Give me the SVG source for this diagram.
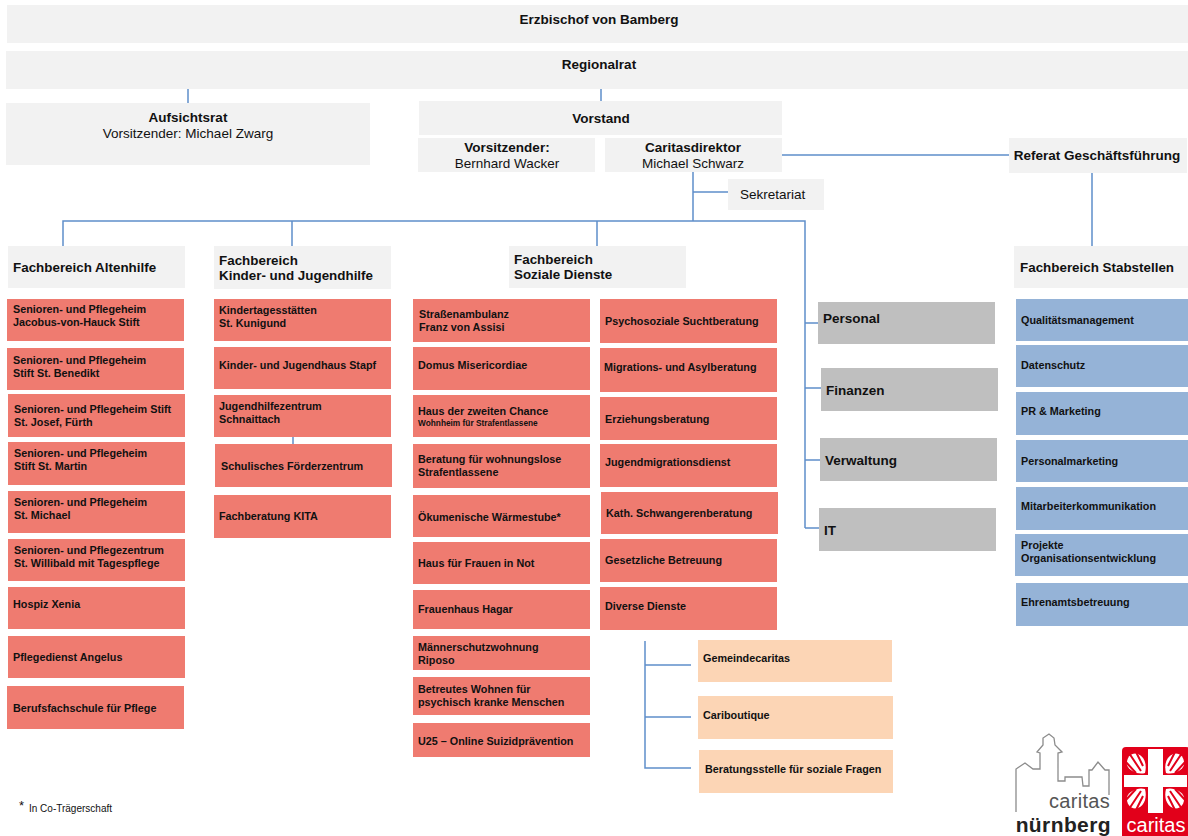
<svg xmlns="http://www.w3.org/2000/svg" width="1188" height="836" viewBox="0 0 1188 836">
<style>
text{font-family:"Liberation Sans",Arial,sans-serif;fill:#111;white-space:pre}
.g{fill:#f2f2f2}.r{fill:#ef7b70}.y{fill:#bfbfbf}.b{fill:#95b3d7}.p{fill:#fcd5b5}
.h{font-size:13.5px;font-weight:bold}.n{font-size:13.5px}.f{font-size:13.4px;font-weight:bold}
.t{font-size:10.8px;font-weight:bold}.s{font-size:8.3px;font-weight:bold}
.m{text-anchor:middle}.q{font-size:13.5px;font-weight:bold}
#connectors path{fill:none;stroke:#5f8fca;stroke-width:1.5}
</style>
<defs>
<g id="flame"><path d="M1166 773C1164 765 1166 757 1173 754C1180 752 1185 758 1184 765C1182 771 1173 775 1166 773Z" fill="#fff"/><path d="M1168 766L1175 752M1170 771L1182 753M1175 773L1186 761" stroke="#e2001a" stroke-width="2" fill="none"/></g>
</defs>
<g id="connectors">
<path d="M188 89V103M601 89V101M693 172V221M693 192H728M63 246V221H805V528M292 221V246M597 221V246M805 323H818M805 388H821M805 460H820M805 528H819M782 155H1009M1092 173V246M293 437V444M645 641V768H691M645 665H691M645 717H691"/>
</g>
<g id="n-erzbischof"><rect class="g" x="7" y="5" width="1181" height="38"/><text class="h m" x="599" y="24">Erzbischof von Bamberg</text></g>
<g id="n-regionalrat"><rect class="g" x="6" y="51" width="1182" height="38"/><text class="h m" x="599" y="69">Regionalrat</text></g>
<g id="n-aufsichtsrat"><rect class="g" x="6" y="103" width="364" height="62"/><text class="h m" x="188" y="122">Aufsichtsrat</text><text class="n m" x="188" y="138">Vorsitzender: Michael Zwarg</text></g>
<g id="n-vorstand"><rect class="g" x="419" y="101" width="363" height="34"/><text class="h m" x="601" y="123">Vorstand</text></g>
<g id="n-vorsitzender"><rect class="g" x="418" y="138" width="177" height="34"/><text class="h m" x="507" y="152">Vorsitzender:</text><text class="n m" x="507" y="168">Bernhard Wacker</text></g>
<g id="n-caritasdirektor"><rect class="g" x="605" y="138" width="177" height="34"/><text class="h m" x="693" y="152">Caritasdirektor</text><text class="n m" x="693" y="168">Michael Schwarz</text></g>
<g id="n-referat"><rect class="g" x="1009" y="138" width="178" height="35"/><text class="h m" x="1097" y="160">Referat Geschäftsführung</text></g>
<g id="n-sekretariat"><rect class="g" x="728" y="179" width="96" height="31"/><text class="n" x="740" y="199">Sekretariat</text></g>

<g id="n-fb-alten"><rect class="g" x="8" y="246" width="177" height="42"/><text class="f" x="13" y="272">Fachbereich Altenhilfe</text></g>
<g id="n-fb-kinder"><rect class="g" x="214" y="246" width="177" height="43"/><text class="f" x="219" y="265">Fachbereich</text><text class="f" x="219" y="280">Kinder- und Jugendhilfe</text></g>
<g id="n-fb-soziale"><rect class="g" x="509" y="246" width="177" height="42"/><text class="f" x="514" y="264">Fachbereich</text><text class="f" x="514" y="279">Soziale Dienste</text></g>
<g id="n-fb-stab"><rect class="g" x="1014" y="246" width="174" height="42"/><text class="f" x="1020" y="272">Fachbereich Stabstellen</text></g>

<g id="a1"><rect class="r" x="7" y="299" width="177" height="42"/><text class="t" x="13" y="313">Senioren- und Pflegeheim</text><text class="t" x="13" y="326">Jacobus-von-Hauck Stift</text></g>
<g id="a2"><rect class="r" x="7" y="348" width="177" height="42"/><text class="t" x="13" y="364">Senioren- und Pflegeheim</text><text class="t" x="13" y="377">Stift St. Benedikt</text></g>
<g id="a3"><rect class="r" x="8" y="394" width="177" height="43"/><text class="t" x="14" y="413">Senioren- und Pflegeheim Stift</text><text class="t" x="14" y="426">St. Josef, Fürth</text></g>
<g id="a4"><rect class="r" x="8" y="442" width="177" height="43"/><text class="t" x="14" y="457">Senioren- und Pflegeheim</text><text class="t" x="14" y="470">Stift St. Martin</text></g>
<g id="a5"><rect class="r" x="8" y="491" width="177" height="42"/><text class="t" x="14" y="506">Senioren- und Pflegeheim</text><text class="t" x="14" y="519">St. Michael</text></g>
<g id="a6"><rect class="r" x="8" y="539" width="177" height="42"/><text class="t" x="14" y="554">Senioren- und Pflegezentrum</text><text class="t" x="14" y="567">St. Willibald mit Tagespflege</text></g>
<g id="a7"><rect class="r" x="8" y="587" width="177" height="42"/><text class="t" x="13" y="608">Hospiz Xenia</text></g>
<g id="a8"><rect class="r" x="8" y="636" width="177" height="42"/><text class="t" x="13" y="661">Pflegedienst Angelus</text></g>
<g id="a9"><rect class="r" x="7" y="686" width="177" height="43"/><text class="t" x="13" y="712">Berufsfachschule für Pflege</text></g>

<g id="k1"><rect class="r" x="214" y="299" width="177" height="42"/><text class="t" x="219" y="314">Kindertagesstätten</text><text class="t" x="219" y="327">St. Kunigund</text></g>
<g id="k2"><rect class="r" x="214" y="347" width="177" height="42"/><text class="t" x="219" y="369">Kinder- und Jugendhaus Stapf</text></g>
<g id="k3"><rect class="r" x="214" y="395" width="177" height="42"/><text class="t" x="219" y="410">Jugendhilfezentrum</text><text class="t" x="219" y="423">Schnaittach</text></g>
<g id="k4"><rect class="r" x="215" y="444" width="177" height="43"/><text class="t" x="221" y="470">Schulisches Förderzentrum</text></g>
<g id="k5"><rect class="r" x="214" y="495" width="177" height="43"/><text class="t" x="219" y="520">Fachberatung KITA</text></g>

<g id="s1"><rect class="r" x="413" y="299" width="177" height="43"/><text class="t" x="419" y="318">Straßenambulanz</text><text class="t" x="419" y="331">Franz von Assisi</text></g>
<g id="s2"><rect class="r" x="413" y="347" width="177" height="43"/><text class="t" x="418" y="369">Domus Misericordiae</text></g>
<g id="s3"><rect class="r" x="413" y="395" width="177" height="42"/><text class="t" x="418" y="415">Haus der zweiten Chance</text><text class="s" x="418" y="426">Wohnheim für Strafentlassene</text></g>
<g id="s4"><rect class="r" x="413" y="444" width="177" height="44"/><text class="t" x="418" y="463">Beratung für wohnungslose</text><text class="t" x="418" y="476">Strafentlassene</text></g>
<g id="s5"><rect class="r" x="413" y="495" width="177" height="42"/><text class="t" x="418" y="521">Ökumenische Wärmestube*</text></g>
<g id="s6"><rect class="r" x="413" y="542" width="177" height="42"/><text class="t" x="418" y="567">Haus für Frauen in Not</text></g>
<g id="s7"><rect class="r" x="413" y="590" width="177" height="39"/><text class="t" x="418" y="613">Frauenhaus Hagar</text></g>
<g id="s8"><rect class="r" x="413" y="636" width="177" height="34"/><text class="t" x="418" y="651">Männerschutzwohnung</text><text class="t" x="418" y="664">Riposo</text></g>
<g id="s9"><rect class="r" x="413" y="677" width="177" height="38"/><text class="t" x="418" y="693">Betreutes Wohnen für</text><text class="t" x="418" y="706">psychisch kranke Menschen</text></g>
<g id="s10"><rect class="r" x="413" y="723" width="177" height="34"/><text class="t" x="418" y="745">U25 – Online Suizidprävention</text></g>

<g id="d1"><rect class="r" x="600" y="299" width="177" height="44"/><text class="t" x="605" y="325">Psychosoziale Suchtberatung</text></g>
<g id="d2"><rect class="r" x="600" y="348" width="177" height="44"/><text class="t" x="604" y="371">Migrations- und Asylberatung</text></g>
<g id="d3"><rect class="r" x="600" y="397" width="177" height="43"/><text class="t" x="605" y="423">Erziehungsberatung</text></g>
<g id="d4"><rect class="r" x="600" y="444" width="177" height="43"/><text class="t" x="605" y="466">Jugendmigrationsdienst</text></g>
<g id="d5"><rect class="r" x="601" y="492" width="177" height="42"/><text class="t" x="606" y="517">Kath. Schwangerenberatung</text></g>
<g id="d6"><rect class="r" x="600" y="539" width="177" height="43"/><text class="t" x="605" y="564">Gesetzliche Betreuung</text></g>
<g id="d7"><rect class="r" x="600" y="587" width="177" height="43"/><text class="t" x="605" y="610">Diverse Dienste</text></g>

<g id="z1"><rect class="y" x="818" y="302" width="177" height="42"/><text class="q" x="823" y="323">Personal</text></g>
<g id="z2"><rect class="y" x="821" y="368" width="177" height="43"/><text class="q" x="826" y="395">Finanzen</text></g>
<g id="z3"><rect class="y" x="820" y="438" width="177" height="43"/><text class="q" x="825" y="465">Verwaltung</text></g>
<g id="z4"><rect class="y" x="819" y="508" width="177" height="43"/><text class="q" x="824" y="535">IT</text></g>

<g id="b1"><rect class="b" x="1016" y="299" width="172" height="42"/><text class="t" x="1021" y="324">Qualitätsmanagement</text></g>
<g id="b2"><rect class="b" x="1016" y="345" width="172" height="42"/><text class="t" x="1021" y="369">Datenschutz</text></g>
<g id="b3"><rect class="b" x="1016" y="392" width="172" height="43"/><text class="t" x="1021" y="415">PR &amp; Marketing</text></g>
<g id="b4"><rect class="b" x="1016" y="440" width="172" height="42"/><text class="t" x="1021" y="465">Personalmarketing</text></g>
<g id="b5"><rect class="b" x="1016" y="487" width="172" height="43"/><text class="t" x="1021" y="510">Mitarbeiterkommunikation</text></g>
<g id="b6"><rect class="b" x="1015" y="534" width="173" height="42"/><text class="t" x="1021" y="549">Projekte</text><text class="t" x="1021" y="562">Organisationsentwicklung</text></g>
<g id="b7"><rect class="b" x="1016" y="583" width="172" height="43"/><text class="t" x="1021" y="606">Ehrenamtsbetreuung</text></g>

<g id="c1"><rect class="p" x="698" y="640" width="194" height="42"/><text class="t" x="703" y="662">Gemeindecaritas</text></g>
<g id="c2"><rect class="p" x="698" y="696" width="195" height="43"/><text class="t" x="703" y="719">Cariboutique</text></g>
<g id="c3"><rect class="p" x="699" y="750" width="194" height="43"/><text class="t" x="705" y="773">Beratungsstelle für soziale Fragen</text></g>

<g id="footnote"><text x="19" y="810" font-size="13">*</text><text x="29" y="812" font-size="10">In Co-Trägerschaft</text></g>

<g id="logo">
<path d="M1016 812V769L1025 763L1033 769H1040V753L1037 752L1043 745V738L1049 734L1054 738L1055 745L1062 752L1058 753V781H1065V777H1082L1083 786H1089V770H1092L1098 762L1105 770H1109V795" fill="none" stroke="#8c8c8c" stroke-width="1.3"/>
<text x="1110" y="808" text-anchor="end" font-size="20" letter-spacing=".3" style="fill:#555">caritas</text>
<text x="1111" y="831.5" text-anchor="end" font-size="21" font-weight="bold" letter-spacing=".4" style="fill:#222">nürnberg</text>
<rect x="1122" y="747" width="68" height="92" rx="4" fill="#e2001a"/>
<path d="M1148 749H1163V775H1187V787H1163V813H1148V787H1124V775H1148Z" fill="#fff"/>
<use href="#flame"/>
<use href="#flame" transform="matrix(-1 0 0 1 2311 0)"/>
<use href="#flame" transform="matrix(1 0 0 -1 0 1562)"/>
<use href="#flame" transform="matrix(-1 0 0 -1 2311 1562)"/>
<text x="1156" y="832" text-anchor="middle" font-size="20" style="fill:#fff">caritas</text>
</g>
</svg>
